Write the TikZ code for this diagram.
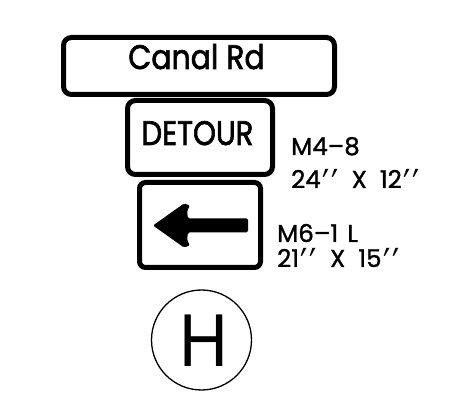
\documentclass[tikz,border=0pt]{standalone}
\usepackage{fontspec}
\setmainfont{Poppins}
\newfontfamily\medfont{Poppins}[FakeBold=2]
\newfontfamily\lblfont{Poppins}[FakeBold=1.2]
\newfontfamily\hfont{Liberation Sans}
\newfontfamily\djfont{DejaVu Sans}
\newcommand{\mypr}{\raisebox{-14pt}{\scalebox{1.3}[1.8]{\djfont ′}}}
\newcommand{\myinch}{\hspace{1.5pt}\mypr\hspace{2pt}\mypr}
\newcommand{\gap}{\hspace{13pt}}
\begin{document}
\begin{tikzpicture}[x=1pt,y=-1pt]
\tikzset{
  signbox/.style={draw=black, line width=5pt, rounded corners=8pt, fill=white},
  bigtxt/.style={anchor=base, inner sep=0pt, font=\medfont\fontsize{34}{34}\selectfont},
  lbltxt/.style={anchor=base west, inner sep=0pt, font=\lblfont\fontsize{24.5}{24.5}\selectfont},
}
\useasboundingbox (0,0) rectangle (459,401);
\fill[white] (0,0) rectangle (459,401);
% Canal Rd sign
\draw[signbox] (63.5,37.5) rectangle (334.5,94.5);
\node[bigtxt] (canal) at (196.5,69) {\scalebox{0.88}[1]{Canal Rd}};
% DETOUR sign
\draw[signbox] (127.5,100.5) rectangle (272.5,174.5);
\node[bigtxt] (detour) at (197.5,145) {\scalebox{0.86}[1]{DETOUR}};
\node[lbltxt] (m48) at (291,155) {M4–8};
\node[lbltxt] (m48s) at (291,188) {24\myinch\gap X\gap 12\myinch};
% Arrow sign
\draw[signbox, rounded corners=6pt] (139.5,182.5) rectangle (260.5,267.5);
\fill[rounded corners=1.5pt] (153,225.5) -- (184,203.5) -- (190,205.5)
  .. controls (187,211) .. (188,218.5) -- (248,218.5) -- (248,232.5) -- (188,232.5)
  .. controls (187,240) .. (190,245.5) -- (184,247.5) -- cycle;
\node[lbltxt] (m61) at (277,242) {M6–1\hspace{9pt}L};
\node[lbltxt] (m61s) at (277,267) {21\myinch\gap X\gap 15\myinch};
% H circle
\node[draw=black, line width=1.3pt, circle, minimum size=100pt, inner sep=0pt] (hc) at (201.5,340) {};
\node[anchor=base, inner sep=0pt, font=\hfont\fontsize{75}{75}\selectfont] (h) at (204,367) {\scalebox{0.9}[1]{H}};
\end{tikzpicture}
\end{document}
